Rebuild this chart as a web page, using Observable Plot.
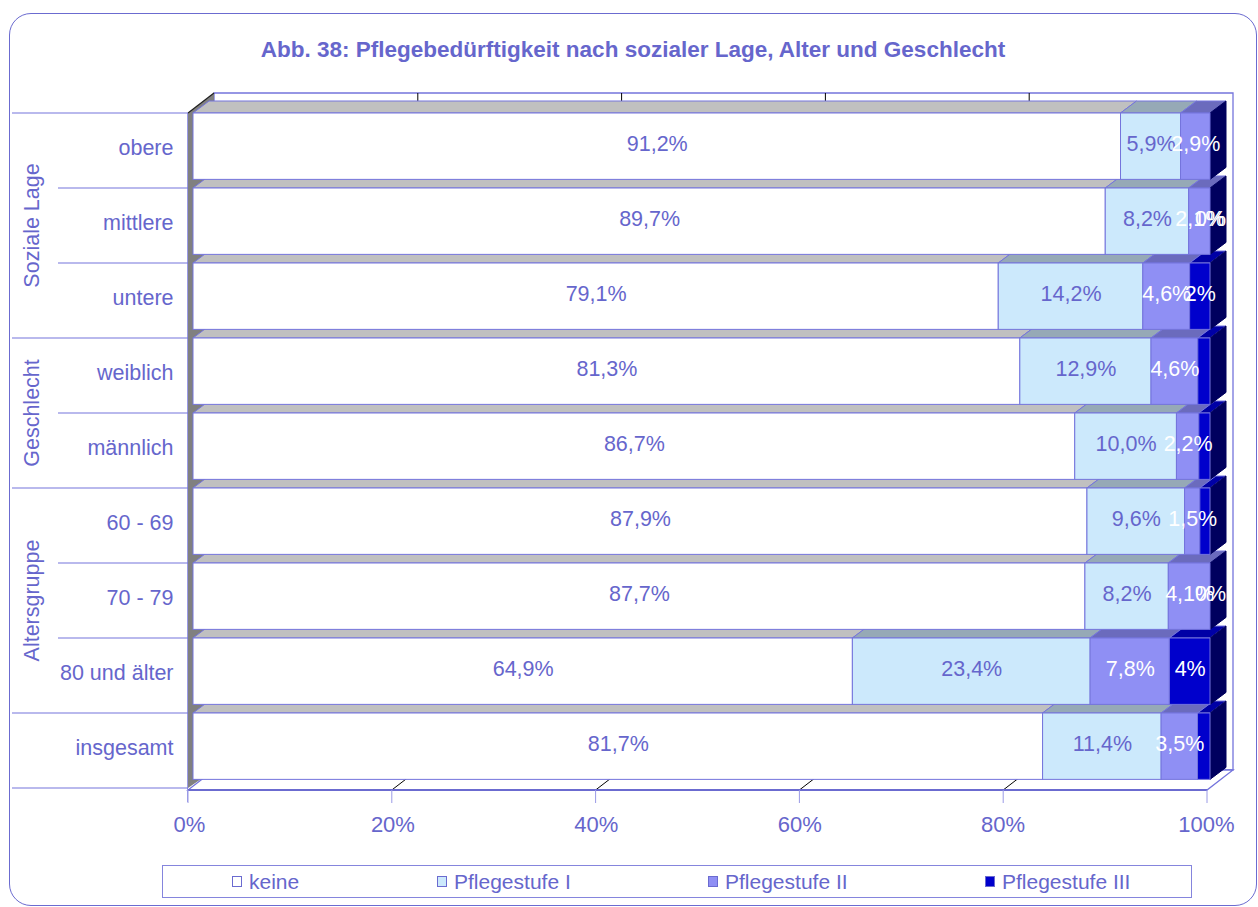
<!DOCTYPE html>
<html lang="de">
<head>
<meta charset="utf-8">
<title>Pflegebedürftigkeit nach sozialer Lage, Alter und Geschlecht</title>
<script src="https://cdn.jsdelivr.net/npm/d3@7"></script>
<script src="https://cdn.jsdelivr.net/npm/@observablehq/plot@0.6"></script>
<style>
  html, body { margin: 0; padding: 0; background: #fff; }
  #page { position: relative; width: 1258px; height: 907px; overflow: hidden;
          font-family: "Liberation Sans", Arial, sans-serif; color: #6666cc; }
  #chart { position: absolute; left: 0; top: 0; }
  #border { position: absolute; left: 9px; top: 12.5px; width: 1248px; height: 893px; box-sizing: border-box;
            border: 1.5px solid #6b6bd0; border-radius: 22px; pointer-events: none; }
  #title { position: absolute; left: 9px; width: 1248px; top: 39px; text-align: center;
           font-weight: bold; font-size: 22.5px; line-height: 1; }
  #legend { position: absolute; left: 162px; top: 865px; width: 1030px; height: 33px; box-sizing: border-box;
            border: 1px solid #8585dd; }
  .item { position: absolute; top: 0; height: 31px; display: flex; align-items: center;
          font-size: 21px; white-space: nowrap; }
  .swatch { width: 10px; height: 11px; box-sizing: border-box; border: 1px solid #6b6bd0; margin-right: 7px; }
</style>
</head>
<body>
<div id="page">
  <div id="chart"></div>
  <div id="border"></div>
  <div id="title">Abb. 38: Pflegebedürftigkeit nach sozialer Lage, Alter und Geschlecht</div>
  <div id="legend"></div>
</div>
<script>
// Categories (top to bottom) and the group each one belongs to
const categories = ["obere", "mittlere", "untere", "weiblich", "männlich", "60 - 69", "70 - 79", "80 und älter", "insgesamt"];
const groupOf = ["Soziale Lage", "Soziale Lage", "Soziale Lage", "Geschlecht", "Geschlecht",
                 "Altersgruppe", "Altersgruppe", "Altersgruppe", ""];
const groupNames = ["Soziale Lage", "Geschlecht", "Altersgruppe"];

// Series and their shares in percent
const seriesNames = ["keine", "Pflegestufe I", "Pflegestufe II", "Pflegestufe III"];
const keine  = [91.2, 89.7, 79.1, 81.3, 86.7, 87.9, 87.7, 64.9, 81.7];
const stufe1 = [5.9, 8.2, 14.2, 12.9, 10.0, 9.6, 8.2, 23.4, 11.4];
const stufe2 = [2.9, 2.1, 4.6, 4.6, 2.2, 1.5, 4.1, 7.8, 3.5];
const stufe3 = [0, 0, 2, 1.2, 1.1, 1.0, 0, 4, 1.2];
// Which "Pflegestufe III" values carry a data label
const stufe3Labeled = [false, true, true, false, false, false, true, true, false];

// Percentage axis
const xTicks = [0, 0.2, 0.4, 0.6, 0.8, 1];
const xTickLabels = ["0%", "20%", "40%", "60%", "80%", "100%"];

// Colours
const TXT = "#6666cc";
const EDGE = "#7474dc";
const frontColors = ["#ffffff", "#cce9fc", "#8f8ff4", "#0000cc"];
const topColors = ["#c0c0c0", "#96a9b6", "#6b6bbd", "#0000a6"];
const SIDE = "#00005e";

// 3-D look: depth of the bars and of the walls, share of each band used by a bar front
const DX = 16, DY = 12, WX = 26, WY = 20, FRONT = 0.885;

const fmt1 = v => v.toFixed(1).replace(".", ",") + "%";
const fmt0 = v => v.toFixed(0) + "%";
const seriesValues = [keine, stufe1, stufe2, stufe3];

const rows = categories.flatMap((cat, i) => seriesNames.map((series, si) => {
  const value = seriesValues[si][i];
  const label = si < 3 ? fmt1(value) : (stufe3Labeled[i] ? fmt0(value) : "");
  return {cat, series, si, value, label};
}));

const pts = p => p.map(d => d.join(",")).join(" ");

// Walls, floor, gridlines and the category table on the left
function frame3d(index, {x, y}) {
  const g = d3.create("svg:g");
  const step = y.step();
  const top = y(categories[0]);
  const bottom = y(categories[categories.length - 1]) + step;
  const f0 = x(0) - 5, f1 = x(1) - 3;
  const fx = t => f0 + t * (f1 - f0);
  const fy = bottom + 2;

  // back wall
  g.append("polygon").attr("points", pts([[f0 + WX, top - WY], [f1 + WX, top - WY], [f1 + WX, fy - WY], [f0 + WX, fy - WY]]))
    .attr("fill", "#fff").attr("stroke", EDGE).attr("stroke-width", 1.3);
  for (const t of xTicks.slice(1, -1)) {
    g.append("line").attr("x1", fx(t) + WX).attr("x2", fx(t) + WX).attr("y1", top - WY).attr("y2", fy - WY)
      .attr("stroke", "#000").attr("stroke-width", 1);
  }
  // floor
  g.append("polygon").attr("points", pts([[f0, fy], [f1, fy], [f1 + WX, fy - WY], [f0 + WX, fy - WY]]))
    .attr("fill", "#fff").attr("stroke", EDGE).attr("stroke-width", 1.3);
  for (const t of xTicks.slice(1, -1)) {
    g.append("line").attr("x1", fx(t)).attr("x2", fx(t) + WX).attr("y1", fy).attr("y2", fy - WY)
      .attr("stroke", "#000").attr("stroke-width", 1);
  }
  g.append("line").attr("x1", f0).attr("x2", f1).attr("y1", fy).attr("y2", fy)
    .attr("stroke", "#6b6bd0").attr("stroke-width", 2.2);
  // left wall
  g.append("polygon").attr("points", pts([[f0, top], [f0 + WX, top - WY], [f0 + WX, fy - WY], [f0, fy - 2]]))
    .attr("fill", "#808080");
  g.append("line").attr("x1", f0).attr("y1", top).attr("x2", f0 + WX).attr("y2", top - WY)
    .attr("stroke", "#202020").attr("stroke-width", 1.2);
  // vertical axis line and tick marks under the floor
  g.append("line").attr("x1", f0 - 0.5).attr("x2", f0 - 0.5).attr("y1", top).attr("y2", fy + 12)
    .attr("stroke", "#9a9ae6").attr("stroke-width", 1);
  for (const t of xTicks) {
    g.append("line").attr("x1", fx(t)).attr("x2", fx(t)).attr("y1", fy).attr("y2", fy + 13)
      .attr("stroke", "#9a9ae6").attr("stroke-width", 1);
  }
  // category table lines: full width between groups, short inside a group
  for (let k = 0; k <= categories.length; k++) {
    const yk = top + k * step;
    const full = k === 0 || k === categories.length || groupOf[k - 1] !== groupOf[k];
    g.append("line").attr("x1", full ? 12 : 58).attr("x2", f0).attr("y1", yk).attr("y2", yk)
      .attr("stroke", "#7474dc").attr("stroke-width", 1.2);
  }
  return g.node();
}

// Stacked bars drawn as boxes: top faces, end face, then fronts (bottom row first)
function bars3d(index, scales, values) {
  const X1 = values.x1, X2 = values.x2, Y = values.y;
  const h = scales.y.bandwidth() * FRONT;
  const g = d3.create("svg:g").attr("stroke", EDGE).attr("stroke-width", 1);
  const byRow = d3.groups(Array.from(index), i => Y[i]).sort((a, b) => b[0] - a[0]);
  for (const [y0, idx] of byRow) {
    const segs = idx.map(i => ({a: Math.min(X1[i], X2[i]), b: Math.max(X1[i], X2[i]), s: rows[i].si}))
      .sort((p, q) => p.a - q.a || p.s - q.s);
    const end = d3.max(segs, d => d.b);
    for (const d of segs) {
      if (d.b - d.a < 0.3) continue;
      g.append("polygon").attr("points", pts([[d.a, y0], [d.a + DX, y0 - DY], [d.b + DX, y0 - DY], [d.b, y0]]))
        .attr("fill", topColors[d.s]);
    }
    g.append("polygon").attr("points", pts([[end, y0], [end + DX, y0 - DY], [end + DX, y0 - DY + h], [end, y0 + h]]))
      .attr("fill", SIDE).attr("stroke", SIDE);
    for (const d of segs) {
      if (d.b - d.a < 0.3) continue;
      g.append("rect").attr("x", d.a).attr("y", y0).attr("width", d.b - d.a).attr("height", h)
        .attr("fill", frontColors[d.s]);
    }
  }
  return g.node();
}

// Rotated group titles beside the category labels
function groupLabels(index, {y}) {
  const g = d3.create("svg:g").attr("fill", TXT).attr("font-size", 21.5).attr("text-anchor", "middle");
  for (const name of groupNames) {
    const cats = categories.filter((c, i) => groupOf[i] === name);
    const mid = (y(cats[0]) + y(cats[cats.length - 1]) + y.bandwidth()) / 2;
    g.append("text").attr("transform", `translate(31,${mid}) rotate(-90)`).attr("dy", "0.35em").text(name);
  }
  return g.node();
}

const chart = Plot.plot({
  width: 1258,
  height: 907,
  marginLeft: 193,
  marginRight: 48,
  marginTop: 110,
  marginBottom: 116,
  x: {domain: [0, 1], axis: null},
  y: {domain: categories, axis: null, padding: 0},
  color: {type: "identity"},
  style: {background: "transparent", fontFamily: "'Liberation Sans', Arial, sans-serif", overflow: "visible"},
  marks: [
    frame3d,
    Plot.barX(rows, Plot.stackX({x: "value", y: "cat", z: "si", offset: "normalize", render: bars3d})),
    Plot.text(rows, Plot.stackX({
      x: "value", y: "cat", z: "si", offset: "normalize",
      text: "label", fill: d => d.si >= 2 ? "#ffffff" : TXT, fontSize: 21.5, dy: -7
    })),
    Plot.text(categories, {y: d => d, text: d => d, frameAnchor: "left", textAnchor: "end", dx: -20, dy: -3, fill: TXT, fontSize: 21.5}),
    Plot.text(xTicks, {x: d => d, text: (d, i) => xTickLabels[i], frameAnchor: "bottom", dy: 40, dx: -4, fill: TXT, fontSize: 22}),
    groupLabels
  ]
});
document.getElementById("chart").append(chart);

// Legend
const legend = d3.select("#legend");
const legendOffsets = [69, 274, 545, 822];
seriesNames.forEach((name, i) => {
  const item = legend.append("div").attr("class", "item").style("left", legendOffsets[i] + "px");
  item.append("div").attr("class", "swatch").style("background", frontColors[i]);
  item.append("span").text(name);
});
</script>
</body>
</html>
